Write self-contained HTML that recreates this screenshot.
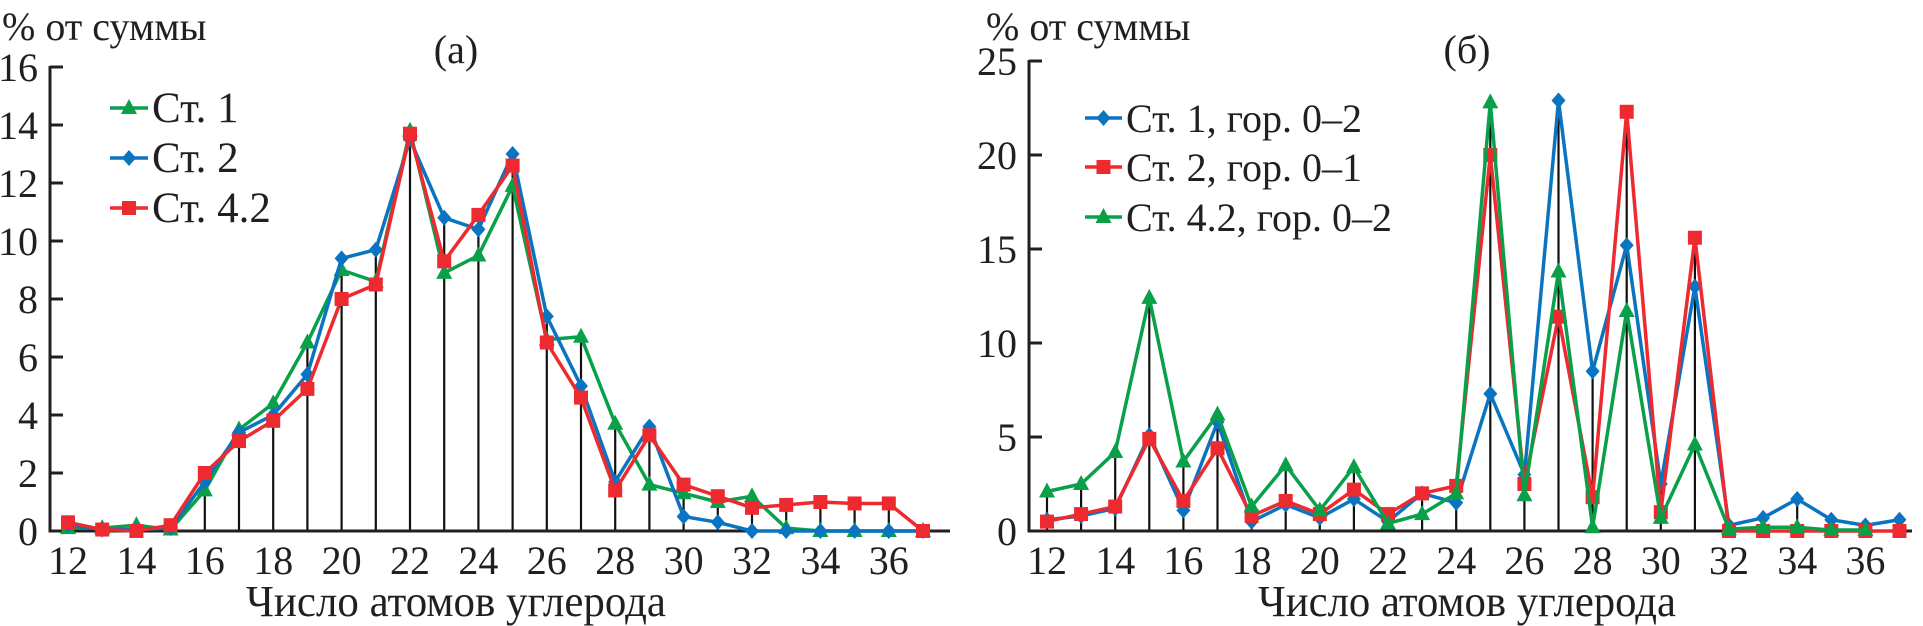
<!DOCTYPE html>
<html><head><meta charset="utf-8">
<style>
html,body{margin:0;padding:0;background:#fff;}
svg{display:block;font-family:"Liberation Serif",serif;}
text{fill:#231f20;}
</style></head>
<body>
<svg id="chart" width="1923" height="626" viewBox="0 0 1923 626" xmlns="http://www.w3.org/2000/svg">
  <text x="2" y="40" font-size="40">% от суммы</text>
  <text x="456" y="63" font-size="40" text-anchor="middle">(а)</text>
  <text x="986" y="40" font-size="40">% от суммы</text>
  <text x="1467" y="63" font-size="40" text-anchor="middle">(б)</text>
  <text x="456" y="616" font-size="44" text-anchor="middle" textLength="420" lengthAdjust="spacingAndGlyphs">Число атомов углерода</text>
  <text x="1467" y="616" font-size="44" text-anchor="middle" textLength="418" lengthAdjust="spacingAndGlyphs">Число атомов углерода</text>
  <g id="left"></g>
  <g id="right"></g>
</svg>
<script>
const categories = [12,13,14,15,16,17,18,19,20,21,22,23,24,25,26,27,28,29,30,31,32,33,34,35,36,37];
const leftTicksY = [0,2,4,6,8,10,12,14,16];
const rightTicksY = [0,5,10,15,20,25];
const xTickLabels = [12,14,16,18,20,22,24,26,28,30,32,34,36];
// left panel (а)
const leftSt1 = [0.1,0.1,0.2,0.05,1.4,3.5,4.4,6.5,9.0,8.6,13.8,8.9,9.5,11.9,6.6,6.7,3.7,1.6,1.3,1.0,1.2,0.1,0,0,0,0];
const leftSt2 = [0.2,0.05,0.05,0.1,1.7,3.4,4.0,5.4,9.4,9.7,13.5,10.8,10.4,13.0,7.4,5.0,1.7,3.6,0.5,0.3,0,0,0,0,0,0];
const leftSt42 = [0.3,0.05,0,0.2,2.0,3.1,3.8,4.9,8.0,8.5,13.7,9.3,10.9,12.6,6.5,4.6,1.4,3.3,1.6,1.2,0.8,0.9,1.0,0.95,0.95,0];
// right panel (б)
const rightSt1 = [0.6,0.8,1.2,5.1,1.1,5.8,0.5,1.4,0.7,1.7,0.5,2.0,1.5,7.3,3.0,22.9,8.5,15.2,2.5,13.0,0.3,0.7,1.7,0.6,0.3,0.6];
const rightSt2 = [0.5,0.9,1.3,4.9,1.6,4.4,0.8,1.6,0.9,2.2,0.9,2.0,2.4,20.0,2.5,11.4,1.8,22.3,1.0,15.6,0,0,0,0,0,0];
const rightSt42 = [2.1,2.5,4.2,12.4,3.7,6.2,1.3,3.5,1.1,3.4,0.4,0.9,2.0,22.8,1.9,13.8,0.2,11.7,0.7,4.6,0.1,0.2,0.2,0.05,0.05,null];

const NS = "http://www.w3.org/2000/svg";
const BLUE="#0a74c0", RED="#ec2a2f", GREEN="#0aa04a";
function mk(tag, attrs, parent){const e=document.createElementNS(NS,tag);for(const k in attrs)e.setAttribute(k,attrs[k]);parent.appendChild(e);return e;}

function marker(g,shape,x,y,color){
  let m;
  if(shape==='tri') m=mk('polygon',{points:`${x},${y-9} ${x-8},${y+6} ${x+8},${y+6}`,fill:color},g);
  else if(shape==='dia') m=mk('polygon',{points:`${x},${y-8} ${x+7},${y} ${x},${y+8} ${x-7},${y}`,fill:color},g);
  else m=mk('rect',{x:x-7,y:y-7,width:14,height:14,fill:color},g);
  return m;
}

function panel(gid, cfg){
  const g=document.getElementById(gid);
  const xS=v=>cfg.x0+(v-12)*cfg.dx;
  const yS=v=>cfg.y0-(v-0)*cfg.dy;
  categories.forEach((c,i)=>{
    const vals=cfg.series.map(s=>s.data[i]).filter(v=>v!=null);
    const mx=Math.max(...vals);
    if(mx<=0.05) return;
    const l=mk('line',{x1:xS(c),x2:xS(c),y1:yS(0),y2:yS(mx),stroke:'#111','stroke-width':2.2},g);
    
    
  });
  const ya=mk('line',{x1:cfg.ax,x2:cfg.ax,y1:yS(cfg.ticks[cfg.ticks.length-1])-1,y2:yS(0)+1.5,stroke:'#231f20','stroke-width':3},g);
   
  const xa=mk('line',{x1:cfg.ax,x2:cfg.xEnd,y1:yS(0),y2:yS(0),stroke:'#231f20','stroke-width':3},g);
   
  cfg.ticks.forEach(t=>{
    const tl=mk('line',{x1:cfg.ax,x2:cfg.ax+13,y1:yS(t),y2:yS(t),stroke:'#231f20','stroke-width':3},g);
     
    const tx=mk('text',{x:cfg.ax-12,y:yS(t)+14,'font-size':40,'text-anchor':'end'},g);
    tx.textContent=t;
     
  });
  xTickLabels.forEach(t=>{
    const tx=mk('text',{x:xS(t),y:574,'font-size':40,'text-anchor':'middle'},g);
    tx.textContent=t;
     
  });
  cfg.series.forEach(s=>{
    const sg=mk('g',{},g);
     
    const pts=[];
    categories.forEach((c,i)=>{if(s.data[i]!=null) pts.push([xS(c),yS(s.data[i])]);});
    const pl=mk('polyline',{points:pts.map(p=>p.join(',')).join(' '),fill:'none',stroke:s.color,'stroke-width':3.5,'stroke-linejoin':'round'},sg);
     
    pts.forEach(p=>{
      const m=marker(sg,s.shape,p[0],p[1],s.color);
       
    });
  });
  cfg.legend.forEach((L,i)=>{
    const lg=mk('g',{},g);
     
    mk('line',{x1:cfg.lx1,x2:cfg.lx2,y1:L.y,y2:L.y,stroke:L.color,'stroke-width':3.5},lg);
    marker(lg,L.shape,(cfg.lx1+cfg.lx2)/2,L.y,L.color);
    const t=mk('text',{x:cfg.lx2+4,y:L.y+14,'font-size':cfg.lfs},lg);
    t.textContent=L.label;
  });
}

panel('left',{x0:68,dx:34.2,y0:531,dy:29.0,ax:50,xEnd:950,ticks:leftTicksY,lfs:43,
  series:[{key:'st1',data:leftSt1,color:GREEN,shape:'tri'},{key:'st2',data:leftSt2,color:BLUE,shape:'dia'},{key:'st42',data:leftSt42,color:RED,shape:'sq'}],
  lx1:110,lx2:148,
  legend:[{key:'st1',y:108,color:GREEN,shape:'tri',label:'Ст. 1'},{key:'st2',y:158,color:BLUE,shape:'dia',label:'Ст. 2'},{key:'st42',y:208,color:RED,shape:'sq',label:'Ст. 4.2'}]});

panel('right',{x0:1047,dx:34.1,y0:531,dy:18.8,ax:1029,xEnd:1912,ticks:rightTicksY,lfs:40,
  series:[{key:'st1',data:rightSt1,color:BLUE,shape:'dia'},{key:'st2',data:rightSt2,color:RED,shape:'sq'},{key:'st42',data:rightSt42,color:GREEN,shape:'tri'}],
  lx1:1085,lx2:1122,
  legend:[{key:'st1',y:118,color:BLUE,shape:'dia',label:'Ст. 1, гор. 0–2'},{key:'st2',y:167,color:RED,shape:'sq',label:'Ст. 2, гор. 0–1'},{key:'st42',y:217,color:GREEN,shape:'tri',label:'Ст. 4.2, гор. 0–2'}]});
</script>
</body></html>
